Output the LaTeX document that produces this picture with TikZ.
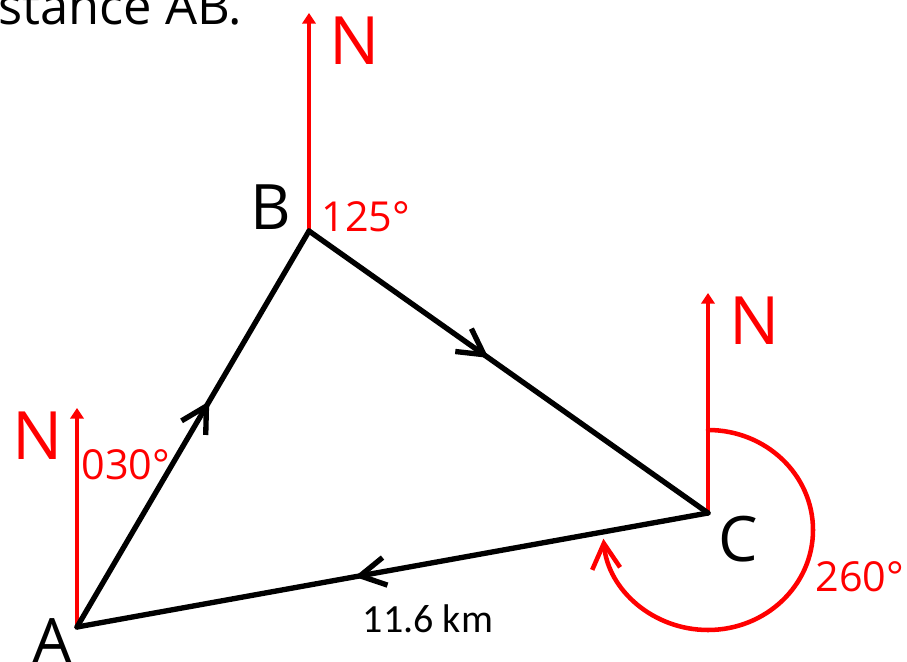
\documentclass[tikz,border=0pt]{standalone}
\usepackage{fontspec}
\newfontfamily\handfont{Open Sans}
\newfontfamily\kmfont{Carlito}
\usetikzlibrary{arrows.meta, decorations.markings}

\begin{document}
\begin{tikzpicture}[x=0.75pt, y=0.75pt,
    every node/.style={inner sep=0pt, font=\handfont},
    leg/.style={draw=black, line width=4pt, line join=round, line cap=round},
    dirmark/.style={postaction={decorate}, decoration={markings,
        mark=at position #1 with {\arrow[line width=4pt, line cap=round]{Straight Barb[length=19pt, width=21pt]}}}},
    north/.style={draw=red, line width=3.4pt, -{Triangle[length=8pt, width=10pt]}},
    turn/.style={draw=red, line width=3.4pt, line cap=round, -{Straight Barb[length=19pt, width=21pt]}},
    pt/.style={font=\handfont\fontsize{47}{50}\selectfont},
    nlabel/.style={text=red, font=\handfont\fontsize{50}{52}\selectfont},
    bearing/.style={text=red, font=\handfont\fontsize{31}{33}\selectfont}
]
\clip (0,0) rectangle (907,661);

% points of the route
\coordinate (A) at (77,34);
\coordinate (B) at (309,430);
\coordinate (C) at (708,148);
\coordinate (An) at (77,253);
\coordinate (Bn) at (309,648);
\coordinate (Cn) at (708,368);

\node[anchor=base west, font=\handfont\fontsize{38}{40}\selectfont] (head) at (-2,636) {stance AB.};

% north lines
\draw[north] (A) -- (An);
\draw[north] (B) -- (Bn);
\draw[north] (C) -- (Cn);
\node[nlabel] (NA) at (38,225) {N};
\node[nlabel] (NB) at (355,620) {N};
\node[nlabel] (NC) at (755,340) {N};

% bearings
\node[bearing] (bA) at (126,196) {030°};
\node[bearing] (bB) at (366,444) {125°};
\node[bearing] (bC) at (860,84) {260°};
\draw[turn] (708,231) arc[start angle=90, end angle=-175, x radius=105, y radius=100];

% the three legs
\draw[leg, dirmark=0.57] (A) -- (B);
\draw[leg, dirmark=0.45] (B) -- (C);
\draw[leg, dirmark=0.56] (C) -- (A);

\node[pt, anchor=north] (Alab) at (52,43) {A};
\node[pt] (Blab) at (271,454) {B};
\node[pt] (Clab) at (738,122) {C};
\node[font=\kmfont\fontsize{30}{32}\selectfont] (dist) at (428,42) {11.6 km};
\end{tikzpicture}
\end{document}
